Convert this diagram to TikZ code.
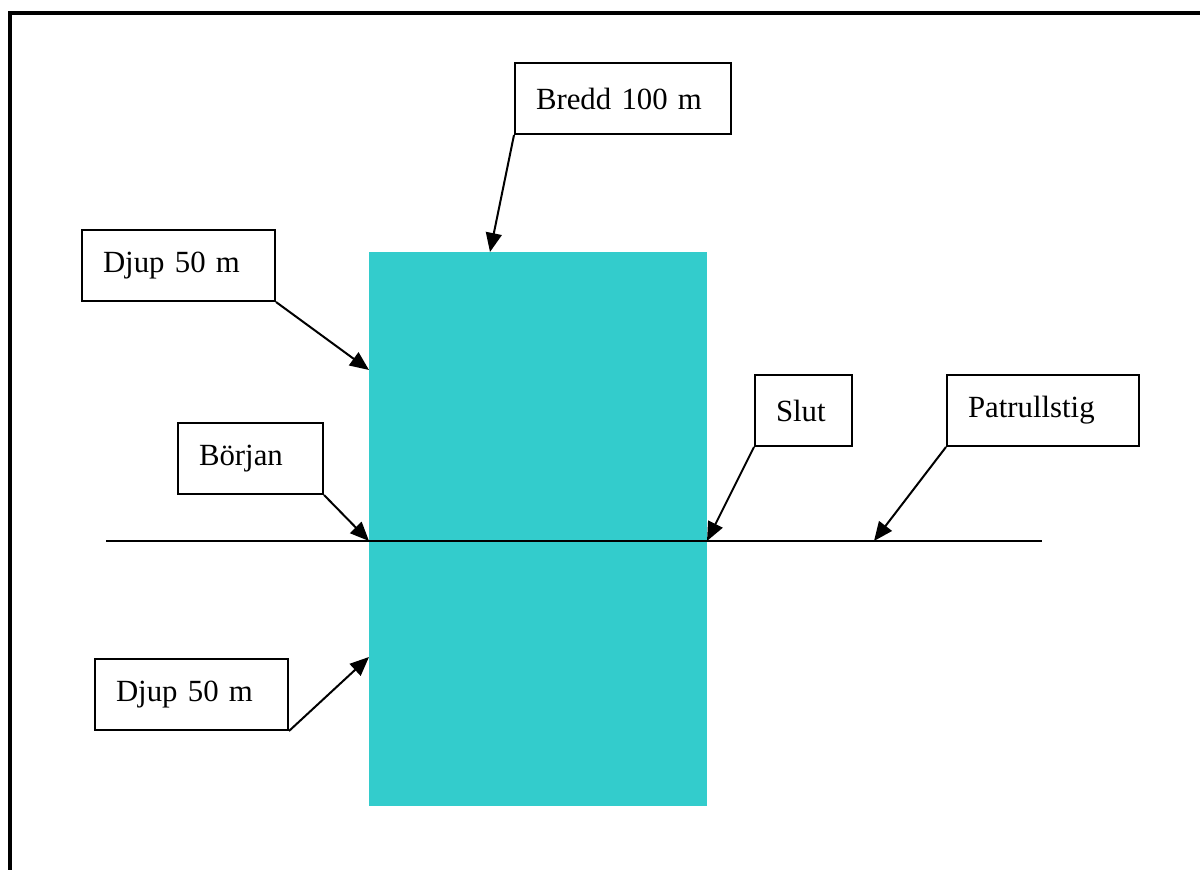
\documentclass[tikz,border=0pt]{standalone}
\usepackage{fontspec}
\setmainfont{Liberation Serif}
\usetikzlibrary{arrows.meta, positioning}
\definecolor{poolColor}{RGB}{51,204,204}

\begin{document}
\begin{tikzpicture}[
    x=0.5pt, y=-0.5pt,
    label_box/.style={draw=black, line width=1pt, fill=white, anchor=north west, align=left, inner xsep=10.5pt, inner ysep=2pt, minimum height=35.5pt, font=\fontsize{15.4}{19}\selectfont},
    pool_box/.style={fill=poolColor, inner sep=0pt, minimum width=169pt, minimum height=277pt},
    pointer/.style={-{Triangle[length=9.5pt, width=8pt]}, line width=1pt},
    path_line/.style={line width=1pt}
]

% Page size and outer frame
\useasboundingbox (0,0) rectangle (1200,870);
\draw[line width=2pt] (10,870) -- (10,13.5) -- (1200,13.5);

% Pool
\node[pool_box] (pool) at (538,529) {};

% Patrol path across the pool
\coordinate (stig_start) at (106,541);
\coordinate (stig_end) at (1042,541);
\draw[path_line] (stig_start) -- (stig_end);

% Arrow targets
\coordinate (pool_top) at (490,252);
\coordinate (pool_upper) at (369,370);
\coordinate (pool_lower) at (369,657);
\coordinate (stig_in) at (369,541);
\coordinate (stig_out) at (707,541);
\coordinate (stig_mid) at (874,541);

% Labels
\node[label_box, text width=87pt] (bredd) at (514,62) {Bredd 100 m};
\node[label_box, text width=75.5pt] (djup_upper) at (81,229) {Djup 50 m};
\node[label_box, text width=51.5pt] (borjan) at (177,422) {Början};
\node[label_box, text width=27.5pt] (slut) at (754,374) {Slut};
\node[label_box, text width=75pt] (patrull) at (946,374) {Patrullstig};
\node[label_box, text width=75.5pt] (djup_lower) at (94,658) {Djup 50 m};

% Pointers
\draw[pointer] (bredd.south west) -- (pool_top);
\draw[pointer] (djup_upper.south east) -- (pool_upper);
\draw[pointer] (borjan.south east) -- (stig_in);
\draw[pointer] (slut.south west) -- (stig_out);
\draw[pointer] (patrull.south west) -- (stig_mid);
\draw[pointer] (djup_lower.south east) -- (pool_lower);

\end{tikzpicture}
\end{document}
